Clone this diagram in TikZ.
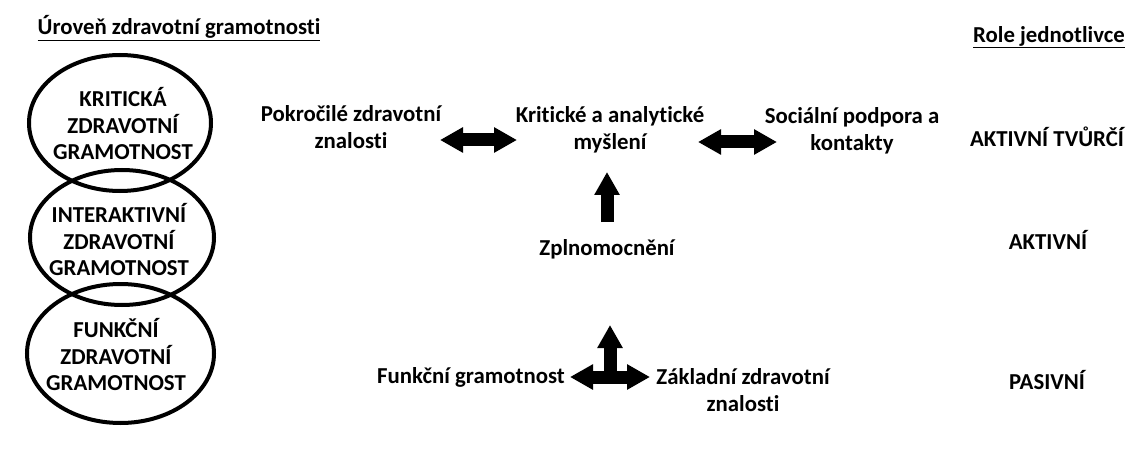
\documentclass[tikz,border=0pt]{standalone}
\usepackage{fontspec}
\setmainfont[Ligatures=NoCommon]{Carlito}
\usetikzlibrary{arrows.meta}
\begin{document}
\begin{tikzpicture}[x=1pt,y=-1pt,
  txt/.style={font=\fontsize{22.8}{26.5}\selectfont\bfseries, align=center, inner sep=0pt},
  ring/.style={draw, line width=4pt},
  blk/.style={line width=13pt, -{Triangle[width=24pt,length=23pt]}},
  dblk/.style={line width=13pt, {Triangle[width=24pt,length=23pt]}-{Triangle[width=24pt,length=23pt]}}]
\useasboundingbox (0,0) rectangle (1129,449);
% headings
\node[txt] (h1) at (179,28) {\underline{Úroveň zdravotní gramotnosti}};
\node[txt] (h2) at (1049,37) {\underline{Role jednotlivce}};
% levels
\draw[ring] (120,123) ellipse [x radius=91, y radius=68];
\draw[ring] (122,237.5) ellipse [x radius=92, y radius=67.5];
\draw[ring] (120.5,353.5) ellipse [x radius=93.5, y radius=69.5];
\node[txt] (l1) at (123,124) {KRITICKÁ\\ZDRAVOTNÍ\\GRAMOTNOST};
\node[txt] (l2) at (119,240) {INTERAKTIVNÍ\\ZDRAVOTNÍ\\GRAMOTNOST};
\node[txt] (l3) at (116,355) {FUNKČNÍ\\ZDRAVOTNÍ\\GRAMOTNOST};
% middle texts
\node[txt] (pok) at (351,127) {Pokročilé zdravotní\\znalosti};
\node[txt] (kri) at (610,130) {Kritické a analytické\\myšlení};
\node[txt] (soc) at (852,131) {Sociální podpora a\\kontakty};
\node[txt] (zpl) at (607,249) {Zplnomocnění};
\node[txt] (fun) at (471,377) {Funkční gramotnost};
\node[txt] (zak) at (743,390) {Základní zdravotní\\znalosti};
% roles
\node[txt] (r1) at (1047,137) {AKTIVNÍ TVŮRČÍ};
\node[txt] (r2) at (1048,240) {AKTIVNÍ};
\node[txt] (r3) at (1047,380) {PASIVNÍ};
% arrow coordinates
\coordinate (a1l) at (440,140);
\coordinate (a1r) at (517,140);
\coordinate (a2l) at (698,142);
\coordinate (a2r) at (777,142);
\coordinate (upb) at (607,222);
\coordinate (upt) at (607,172);
\coordinate (bl) at (570,377);
\coordinate (br) at (650,377);
\coordinate (bc) at (610,377);
\coordinate (bt) at (610,325);
% arrows
\draw[dblk] (a1l) -- (a1r);
\draw[dblk] (a2l) -- (a2r);
\draw[blk] (upb) -- (upt);
\draw[dblk] (bl) -- (br);
\draw[blk] (bc) -- (bt);
\end{tikzpicture}
\end{document}
